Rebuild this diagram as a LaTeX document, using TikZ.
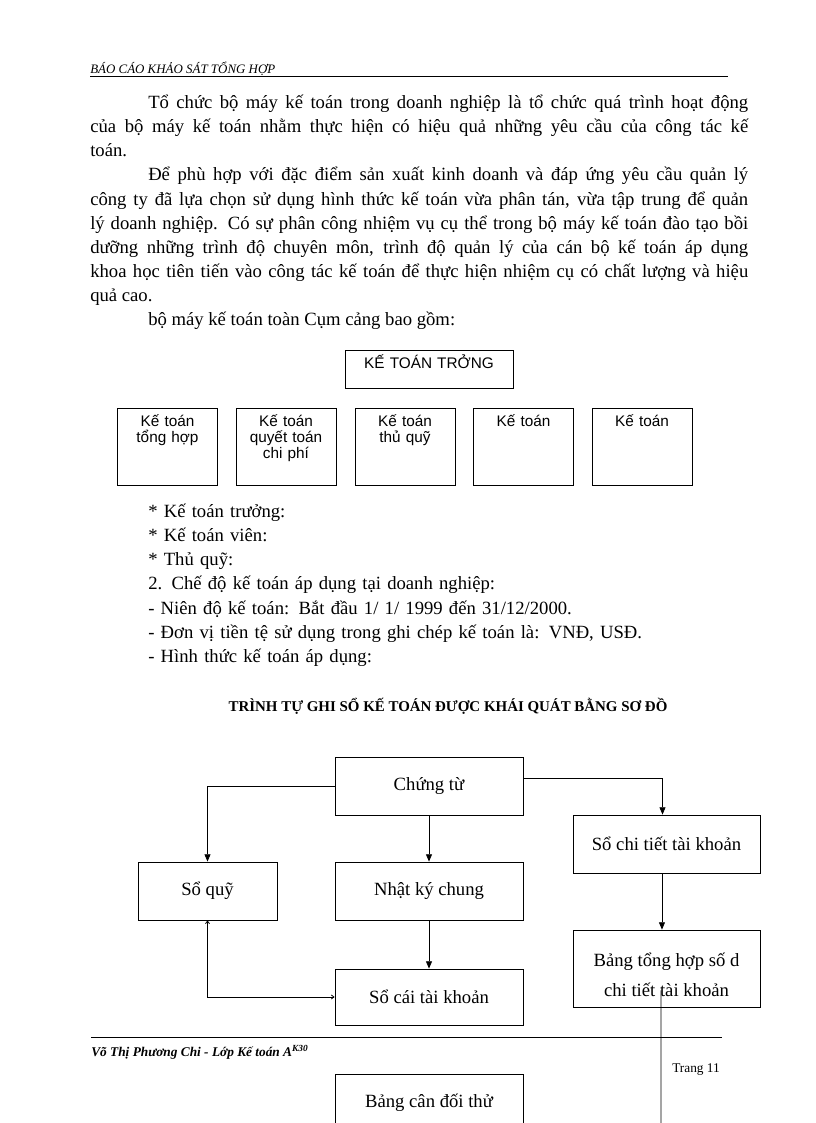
\documentclass[tikz,border=0pt]{standalone}
\usepackage{fontspec}
\setmainfont{Liberation Serif}
\newfontfamily\arialfont{Liberation Sans}
\usepackage{tikz}
\usetikzlibrary{arrows.meta, positioning}
\hyphenpenalty=10000
\exhyphenpenalty=10000

\begin{document}
\begin{tikzpicture}[
  x=0.75pt, y=-0.75pt,
  bodytext/.style={anchor=base west, inner sep=0pt, font=\fontsize{14}{18.1}\selectfont},
  orgbox/.style={draw, line width=0.6pt, inner sep=3pt, text width=69pt, align=center, font=\arialfont\fontsize{11.5}{12}\selectfont, text height=10.5pt, text depth=41.25pt},
  headbox/.style={orgbox, text width=120pt, text height=10.9pt, text depth=11.6pt},
  flowbox/.style={draw, line width=0.6pt, minimum width=141pt, minimum height=43.5pt, align=center, font=\fontsize{14}{22.5}\selectfont},
  flow/.style={-{Triangle[length=5.5pt,width=4.5pt]}, line width=0.6pt},
  link/.style={{Straight Barb[length=2pt,width=3pt]}-{Straight Barb[length=2pt,width=3pt]}, line width=0.6pt},
  pagerule/.style={line width=0.5pt}
]
\useasboundingbox (0,0) rectangle (816,1123);
\clip (0,0) rectangle (816,1123);

% Header
\node[anchor=base west, inner sep=0pt, font=\itshape\fontsize{9.7}{11}\selectfont] (header) at (90,74) {BÁO CÁO KHẢO SÁT TỔNG HỢP};
\draw[pagerule] (90,76.5) -- (728,76.5);

% Text
\node[bodytext, text width=493.5pt, align=justify] (intro) at (90,108.5) {%
\hspace*{43.5pt}Tổ chức bộ máy kế toán trong doanh nghiệp là tổ chức quá trình hoạt động\linebreak
của bộ máy kế toán nhằm thực hiện có hiệu quả những yêu cầu của công tác kế\linebreak
toán.\par
\hspace*{43.5pt}Để phù hợp với đặc điểm sản xuất kinh doanh và đáp ứng yêu cầu quản lý\linebreak
công ty đã lựa chọn sử dụng hình thức kế toán vừa phân tán, vừa tập trung để quản\linebreak
lý doanh nghiệp. Có sự phân công nhiệm vụ cụ thể trong bộ máy kế toán đào tạo bồi\linebreak
dưỡng những trình độ chuyên môn, trình độ quản lý của cán bộ kế toán áp dụng\linebreak
khoa học tiên tiến vào công tác kế toán để thực hiện nhiệm cụ có chất lượng và hiệu\linebreak
quả cao.\par
\hspace*{43.5pt}bộ máy kế toán toàn Cụm cảng bao gồm:};

% Org chart
\node[headbox] (ktt) at (429,369) {KẾ TOÁN TRỞNG};
\node[orgbox] (kt1) at (167.5,446.5) {Kế toán\\tổng hợp};
\node[orgbox] (kt2) at (286,446.5) {Kế toán\\quyết toán\\chi phí};
\node[orgbox] (kt3) at (405,446.5) {Kế toán\\thủ quỹ};
\node[orgbox] (kt4) at (523.5,446.5) {Kế toán};
\node[orgbox] (kt5) at (642,446.5) {Kế toán};

% List
\node[bodytext, text width=560pt, align=left] (duties) at (148,517.5) {%
{*} Kế toán trưởng:\\
{*} Kế toán viên:\\
{*} Thủ quỹ:\\
2. Chế độ kế toán áp dụng tại doanh nghiệp:\\
- Niên độ kế toán: Bắt đầu 1/ 1/ 1999 đến 31/12/2000.\\
- Đơn vị tiền tệ sử dụng trong ghi chép kế toán là: VNĐ, USĐ.\\
- Hình thức kế toán áp dụng:};

\node[anchor=base, inner sep=0pt, font=\bfseries\fontsize{11.2}{13}\selectfont] (title) at (448,711) {TRÌNH TỰ GHI SỔ KẾ TOÁN ĐƯỢC KHÁI QUÁT BẰNG SƠ ĐỒ};

% Flow chart
\node[flowbox] (ct) at (429,786) {Chứng từ};
\node[flowbox, minimum width=104.25pt] (sq) at (207.5,891) {Sổ quỹ};
\node[flowbox] (nkc) at (429,891) {Nhật ký chung};
\node[flowbox, minimum width=140.25pt] (sct) at (666.5,844) {Sổ chi tiết tài khoản};
\node[flowbox, minimum width=140.25pt, minimum height=57.75pt] (bth) at (666.5,968.5) {\rule{0pt}{20pt}Bảng tổng hợp số d\\chi tiết tài khoản};
\node[flowbox, minimum height=42pt] (sc) at (429,997) {Sổ cái tài khoản};
\node[flowbox] (bcd) at (429,1103) {Bảng cân đối thử};
\coordinate (cut) at (661,1130);

\draw[flow] (ct.west) -| (sq.north);
\draw[flow] (ct.south) -- (nkc.north);
\draw[flow] ([yshift=6pt]ct.east) -| ([xshift=-3pt]sct.north);
\draw[flow] ([xshift=-3.4pt]sct.south) -- ([xshift=-3.4pt]bth.north);
\draw[flow] (nkc.south) -- (sc.north);
\draw[link] (sq.south) |- (sc.west);
\draw[line width=0.6pt] ([xshift=-4.1pt,yshift=12.75pt]bth.south) -- (cut);

% Footer
\draw[pagerule] (91,1037.5) -- (722,1037.5);
\node[anchor=base west, inner sep=0pt, font=\bfseries\itshape\fontsize{10}{12}\selectfont] (author) at (91,1056) {Võ Thị Phương Chi - Lớp Kế toán A\textsuperscript{K30}};
\node[anchor=base west, inner sep=0pt, font=\fontsize{10}{12}\selectfont] (pageno) at (672,1072) {Trang 11};
\end{tikzpicture}
\end{document}
